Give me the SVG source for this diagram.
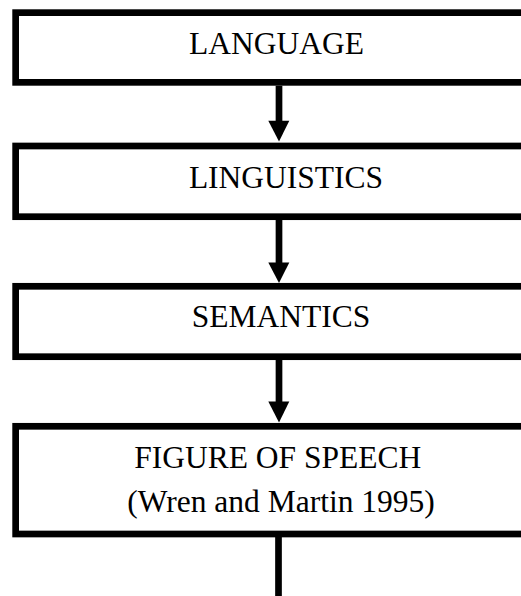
<svg xmlns="http://www.w3.org/2000/svg" width="521" height="596" viewBox="0 0 521 596">
<style>
.box{fill:#fff;stroke:#000;stroke-width:6.7}
.t{font-family:"Liberation Serif","Times New Roman",serif;font-size:31.5px;fill:#000;text-anchor:middle}
.shaft{stroke:#000;stroke-width:6.7;fill:none}
.head{fill:#000}
</style>
<rect width="521" height="596" fill="#fff"/>
<g id="node-language">
<rect class="box" x="15.65" y="12.65" width="540" height="69.7"/>
<text class="t" x="276.5" y="54.3">LANGUAGE</text>
</g>
<g id="node-linguistics">
<rect class="box" x="15.65" y="146" width="540" height="70.7"/>
<text class="t" x="286" y="188.3">LINGUISTICS</text>
</g>
<g id="node-semantics">
<rect class="box" x="15.65" y="286.3" width="540" height="70.4"/>
<text class="t" x="281" y="326.7">SEMANTICS</text>
</g>
<g id="node-figure">
<rect class="box" x="15.65" y="426.3" width="540" height="107.7"/>
<text class="t" x="277.7" y="467.7">FIGURE OF SPEECH</text>
<text class="t" x="281" y="511.7">(Wren and Martin 1995)</text>
</g>
<g id="connectors">
<line class="shaft" x1="279" y1="85.7" x2="279" y2="122"/>
<polygon class="head" points="268.3,120.7 289.3,120.7 279,141.5"/>
<line class="shaft" x1="279" y1="220" x2="279" y2="264"/>
<polygon class="head" points="268.3,262.5 289.3,262.5 279,283"/>
<line class="shaft" x1="279" y1="360" x2="279" y2="403"/>
<polygon class="head" points="268.3,401.5 289.3,401.5 279,422.5"/>
<line class="shaft" x1="278.5" y1="537" x2="278.5" y2="596"/>
</g>
</svg>
